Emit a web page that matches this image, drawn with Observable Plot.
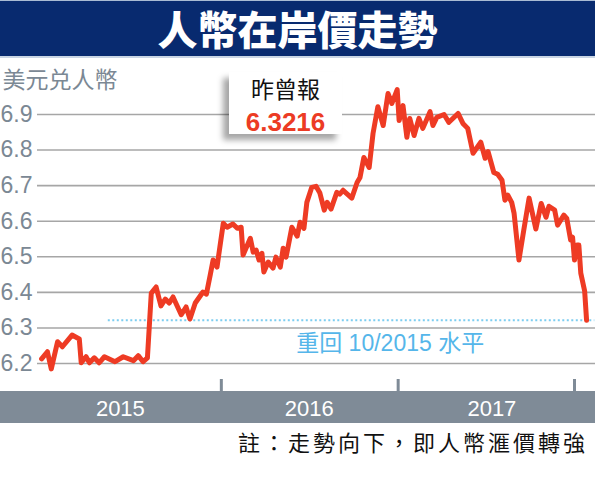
<!DOCTYPE html>
<html><head><meta charset="utf-8">
<script src="https://cdn.jsdelivr.net/npm/d3@7"></script>
<script src="https://cdn.jsdelivr.net/npm/@observablehq/plot@0.6"></script>
<style>
body{margin:0;background:#fff;width:595px;height:492px;position:relative;overflow:hidden;font-family:"Liberation Sans",Arial,sans-serif}
#title{position:absolute;left:0;top:0;width:595px;height:55px;background:#082a6f;border-top:1px solid #a9bbd3;border-bottom:2px solid #c9d5e4;color:#fff;font-family:"Noto Sans CJK TC";font-weight:900;font-size:40px;text-align:center;line-height:55px;}
#band{position:absolute;left:0;top:391px;width:595px;height:32px;background:#7f8b97}
#chart{position:absolute;left:0;top:58px}
#callout{position:absolute;left:229px;top:72px;width:113px;height:62px;background:#fff;box-shadow:-6px 6px 6px rgba(0,0,0,0.35);text-align:center}
#callout .l{position:absolute;left:0;width:100%;top:5px;font-family:"Noto Sans CJK TC";font-size:23px;line-height:23px;color:#111}
#callout .v{position:absolute;left:0;width:100%;top:37px;font-family:"Liberation Sans",Arial,sans-serif;font-weight:bold;font-size:26px;line-height:26px;color:#ec3b24}
#footer{position:absolute;right:7px;top:428px;font-family:"Noto Sans CJK TC";font-size:22px;line-height:26px;letter-spacing:3px;color:#111}
</style></head>
<body>
<div id="title"></div>
<div id="band"></div>
<div id="chart"></div>
<div id="callout"><div class="l"></div><div class="v"></div></div>
<div id="footer"></div>
<script>
const title = "人幣在岸價走勢";
const yLabel = "美元兑人幣";
const note = "註：走勢向下，即人幣滙價轉強";
const calloutLabel = "昨曾報";
const calloutValue = "6.3216";
const refLabel = "重回 10/2015 水平";
const refValue = 6.3216;
const refStart = "2015-05-12";
const refEnd = "2018-02-12";
const refLabelDate = "2016-06-04";

const yTicks = [6.2, 6.3, 6.4, 6.5, 6.6, 6.7, 6.8, 6.9];
const yearBoundaries = ["2016-01-01", "2017-01-01", "2018-01-01"];
const yearLabels = ["2015", "2016", "2017"];
const yearLabelDates = ["2015-06-06", "2016-07-01", "2017-07-14"];

const dates = ["2014-12-25","2015-01-06","2015-01-14","2015-01-27","2015-02-06","2015-02-26","2015-03-13","2015-03-17","2015-03-27","2015-04-03","2015-04-13","2015-04-23","2015-05-04","2015-05-26","2015-06-12","2015-07-03","2015-07-13","2015-07-23","2015-08-01","2015-08-09","2015-08-19","2015-08-29","2015-09-07","2015-09-15","2015-09-23","2015-10-10","2015-10-20","2015-10-28","2015-11-08","2015-11-24","2015-12-01","2015-12-09","2015-12-15","2015-12-23",
"2016-01-05","2016-01-13","2016-01-25","2016-02-03","2016-02-11","2016-02-15","2016-03-01","2016-03-07","2016-03-13","2016-03-19","2016-03-25","2016-03-29","2016-04-07","2016-04-17","2016-04-23","2016-05-02","2016-05-08","2016-05-14","2016-05-26","2016-06-06","2016-06-12","2016-06-20","2016-06-26","2016-07-06","2016-07-15","2016-07-23","2016-08-01","2016-08-07","2016-08-15","2016-08-27","2016-09-02","2016-09-09","2016-09-27","2016-10-08","2016-10-14","2016-10-22","2016-11-02","2016-11-10","2016-11-20","2016-12-01","2016-12-11","2016-12-19","2016-12-30",
"2017-01-03","2017-01-11","2017-01-19","2017-01-25","2017-02-03","2017-02-13","2017-02-21","2017-03-08","2017-03-14","2017-03-22","2017-04-06","2017-04-16","2017-05-05","2017-05-15","2017-05-25","2017-06-05","2017-06-21","2017-06-30","2017-07-06","2017-07-18","2017-07-26","2017-08-04","2017-08-10","2017-08-16","2017-08-24","2017-08-29","2017-09-08","2017-09-18","2017-09-29","2017-10-13","2017-10-24","2017-11-03","2017-11-09","2017-11-21","2017-11-27","2017-12-10","2017-12-16","2017-12-24","2017-12-28",
"2018-01-01","2018-01-06","2018-01-10","2018-01-14","2018-01-22","2018-01-26"];

const values = [6.213,6.233,6.185,6.261,6.247,6.280,6.269,6.202,6.219,6.202,
6.216,6.202,6.219,6.205,6.219,6.208,6.222,6.205,6.216,6.398,
6.415,6.362,6.381,6.370,6.387,6.337,6.359,6.325,6.370,6.401,
6.395,6.449,6.491,6.471,6.594,6.583,6.592,6.580,6.583,6.505,
6.552,6.513,6.519,6.491,6.510,6.457,6.485,6.468,6.499,6.471,
6.524,6.499,6.583,6.558,6.597,6.580,6.653,6.695,6.698,6.679,
6.631,6.653,6.634,6.681,6.676,6.687,6.665,6.709,6.723,6.779,
6.751,6.847,6.922,6.869,6.959,6.931,6.970,6.883,6.925,6.836,
6.889,6.841,6.889,6.861,6.908,6.869,6.892,6.900,6.878,6.903,
6.875,6.861,6.791,6.822,6.777,6.796,6.737,6.732,6.715,6.659,
6.673,6.653,6.622,6.491,6.575,6.665,6.578,6.650,6.611,6.642,
6.631,6.589,6.617,6.608,6.547,6.555,6.491,6.533,6.533,6.454,
6.404,6.3216];

document.getElementById("title").textContent = title;
document.getElementById("footer").textContent = note;
document.querySelector("#callout .l").textContent = calloutLabel;
document.querySelector("#callout .v").textContent = calloutValue;

const data = dates.map((d, i) => ({date: new Date(d), value: values[i]}));
const yearLabelData = yearLabels.map((t, i) => ({t, date: new Date(yearLabelDates[i])}));

const chart = Plot.plot({
  width: 595,
  height: 376,
  marginLeft: 37,
  marginRight: 0,
  marginTop: 56,
  marginBottom: 55,
  style: {background: "transparent", fontFamily: "'Liberation Sans', Arial, sans-serif", overflow: "visible"},
  x: {type: "utc", domain: [new Date("2015-01-01"), new Date("2018-01-01")], range: [44.5, 574]},
  y: {domain: [6.2, 6.9], range: [305, 56]},
  marks: [
    Plot.gridY(yTicks, {stroke: "#a6a6a6", strokeOpacity: 1, strokeWidth: 1.6}),
    Plot.axisY(yTicks, {label: null, tickSize: 0, tickPadding: 0, textAnchor: "start", dx: -37, fontSize: 23, fill: "#7b8894", tickFormat: d => d.toFixed(1)}),
    Plot.text([yLabel], {frameAnchor: "top-left", text: d => d, textAnchor: "start", lineAnchor: "middle", dx: -35, dy: -34, fontSize: 23, fill: "#7b8894", fontFamily: "Noto Sans CJK TC"}),
    Plot.axisX(yearBoundaries.map(d => new Date(d)), {label: null, anchor: "bottom", tickSize: 12, stroke: "#7f8b97", strokeWidth: 3, tickFormat: () => ""}),
    Plot.text(yearLabelData, {x: "date", frameAnchor: "bottom", lineAnchor: "middle", text: "t", dy: 29, fill: "white", fontSize: 22}),
    Plot.ruleY([refValue], {x1: new Date(refStart), x2: new Date(refEnd), stroke: "#7dcdf0", strokeWidth: 2, strokeDasharray: "2,2.5"}),
    Plot.text([{label: refLabel, date: new Date(refLabelDate), value: refValue}], {x: "date", y: "value", text: "label", textAnchor: "start", dy: 23, fontSize: 23, fill: "#55b6ea", fontFamily: "'Liberation Sans', 'Noto Sans CJK TC', sans-serif"}),
    Plot.lineY(data, {x: "date", y: "value", stroke: "#ee3b24", strokeWidth: 5, strokeLinejoin: "round", strokeLinecap: "round"})
  ]
});
document.getElementById("chart").appendChild(chart);
</script>
</body></html>
